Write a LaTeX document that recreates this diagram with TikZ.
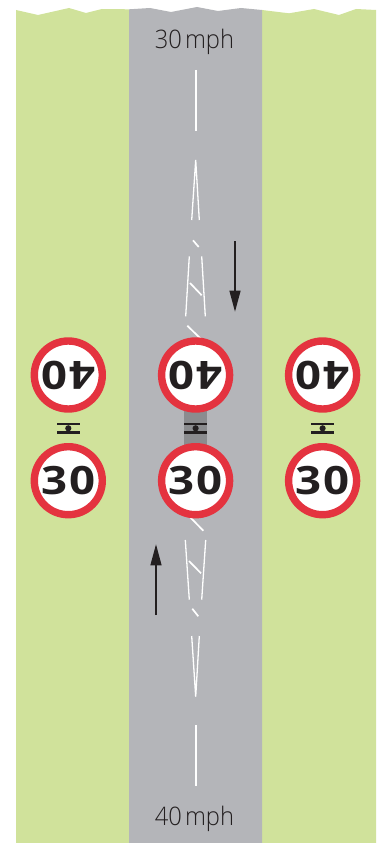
\documentclass[tikz,border=0pt]{standalone}
\usepackage{fontspec}
\setmainfont{Open Sans Light}[FakeStretch=0.93]
\newfontfamily\signfont{Open Sans Bold}[FakeStretch=1.17]
\usetikzlibrary{arrows.meta}
\definecolor{verge}{HTML}{D0E29B}
\definecolor{tarmac}{HTML}{B4B5B9}
\definecolor{refuge}{HTML}{8B8C8F}
\definecolor{signred}{HTML}{E4333F}
\definecolor{inkblack}{HTML}{231F20}
\tikzset{
  % --- road markings ---------------------------------------------------------
  centre/.style={white,line width=1.6pt},
  taper/.style={white,line width=1.3pt},
  hatch/.style={white,line width=1.7pt},
  flow/.style={-{Triangle[length=21pt,width=11pt]},inkblack,line width=1.2pt},
  % --- signs -----------------------------------------------------------------
  sign/.style={circle,draw=signred,fill=white,line width=7.4pt,minimum size=68pt,
               inner sep=0pt,text=inkblack,font=\signfont\fontsize{39}{39}\selectfont},
  signup/.style={sign,rotate=180},
  symbar/.style={inkblack,line width=2.4pt},
  symstem/.style={inkblack,line width=1pt},
  symdot/.style={circle,fill=inkblack,inner sep=0pt,minimum size=6.2pt},
  speed/.style={anchor=base,text=inkblack,inner sep=0pt,font=\fontsize{25.5}{26}\selectfont},
}
\begin{document}
\begin{tikzpicture}[x=1pt, y=-1pt]
  \useasboundingbox (0,0) rectangle (376,843);
  % verges and carriageway
  \fill[verge] (16,10) -- (38,15) -- (69,8) -- (86,13) -- (102,9) -- (129,9.3)
    -- (129,843) -- (16,843) -- cycle;
  \fill[verge] (262,10) -- (289,13.3) -- (314,9) -- (339,15) -- (356,9) -- (376,10)
    -- (376,843) -- (262,843) -- cycle;
  \fill[tarmac] (129,9.3) -- (150,8) -- (171,12) -- (197,7) -- (218,11) -- (241,8)
    -- (262,10) -- (262,843) -- (129,843) -- cycle;
  \fill[refuge] (184.3,400) rectangle (207,452);

  \node[speed] (top) at (194.5,48.2) {30\kern3pt mph};
  \node[speed] (bot) at (194.5,825.2) {40\kern3pt mph};

  % markings, 30 side
  \draw[centre] (196,70) -- (196,130.6);
  \draw[taper] (191.7,220) -- (195.7,160) -- (199.3,220);
  \draw[hatch] (193,240.3) -- (198.7,247);
  \draw[taper] (189.3,256.3) -- (185.7,316.3);
  \draw[taper] (201.7,256.3) -- (205.3,316.3);
  \draw[hatch] (190,283) -- (201.7,295.3);
  \draw[hatch] (187.3,325.7) -- (202,340);

  % markings, 40 side
  \draw[hatch] (189,516) -- (203.3,530.7);
  \draw[taper] (185.3,540) -- (189.3,599.7);
  \draw[taper] (205.7,540) -- (201.7,599.7);
  \draw[hatch] (189,561) -- (201,573.3);
  \draw[hatch] (192.3,608.7) -- (198.3,616.3);
  \draw[taper] (191.7,636) -- (195.7,696.7) -- (199.3,636);
  \draw[centre] (196,725) -- (196,786);

  % traffic direction
  \coordinate (dn1) at (235,241.3);
  \coordinate (dn2) at (235,311.7);
  \coordinate (up1) at (156,615);
  \coordinate (up2) at (156,544.3);
  \draw[flow] (dn1) -- (dn2);
  \draw[flow] (up1) -- (up2);

  % signs
  \node[signup] (l40) at (68.3,375)  {4\kern2pt 0};
  \node[sign]   (l30) at (68.3,480.7) {3\kern2pt 0};
  \node[signup] (c40) at (195.6,375) {4\kern2pt 0};
  \node[sign]   (c30) at (195.6,480.7) {3\kern2pt 0};
  \node[signup] (r40) at (322.6,375) {4\kern2pt 0};
  \node[sign]   (r30) at (322.6,480.7) {3\kern2pt 0};

  % dual carriageway symbols
  \node[symdot] (ld) at (68.3,428.3) {};
  \draw[symbar] (57,424) -- (80,424); \draw[symbar] (57,432.6) -- (80,432.6);
  \draw[symstem] (68.3,424) -- (ld) -- (68.3,432.6);
  \node[symdot] (cd) at (195.6,428.3) {};
  \draw[symbar] (184.3,424) -- (207,424); \draw[symbar] (184.3,432.6) -- (207,432.6);
  \draw[symstem] (195.6,424) -- (cd) -- (195.6,432.6);
  \node[symdot] (rd) at (322.6,428.3) {};
  \draw[symbar] (311.3,424) -- (334,424); \draw[symbar] (311.3,432.6) -- (334,432.6);
  \draw[symstem] (322.6,424) -- (rd) -- (322.6,432.6);
\end{tikzpicture}
\end{document}
